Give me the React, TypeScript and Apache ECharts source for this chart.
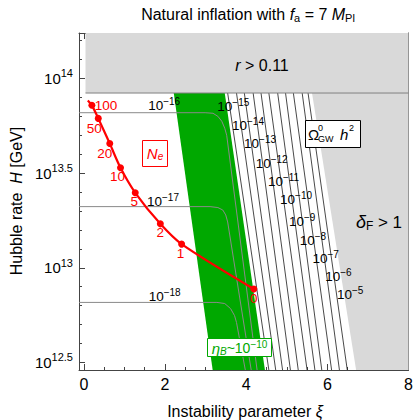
import React, { useEffect, useRef } from 'react';
import * as echarts from 'echarts';

const FONT = "'Liberation Sans', Arial, Helvetica, sans-serif";
const RED = '#ff0000';
const GREEN = '#00a800';
const LIGHT = '#d9d9d9';
const GREYLINE = '#8a8a8a';
const FRAME = '#444444';

const X_MIN = -0.12;
const X_MAX = 8;
const Y_MIN = 12.46;
const Y_MAX = 14.24;

// ticks
const xMajorTicks = [0, 2, 4, 6, 8];
const xMinorTicks = [0.5, 1, 1.5, 2.5, 3, 3.5, 4.5, 5, 5.5, 6.5, 7, 7.5];
const yMajorTicks = [12.5, 13, 13.5, 14];
const yTickLabels = ['12.5', '13', '13.5', '14'];
const yMinorTicks = [12.6, 12.7, 12.8, 12.9, 13.1, 13.2, 13.3, 13.4, 13.6, 13.7, 13.8, 13.9, 14.1, 14.2];

// r > 0.11 excluded region (xi, log10 H)
const rRegionXi = [0.04, 8, 8, 0.04];
const rRegionLogH = [13.923, 13.923, 14.24, 14.24];
const rBoundaryXi = [0.04, 8];
const rBoundaryLogH = [13.923, 13.923];
// delta_F > 1 region
const deltaRegionXi = [5.621, 8, 8, 6.708];
const deltaRegionLogH = [13.923, 13.923, 12.46, 12.46];
// eta_B ~ 1e-10 band
const etaBandXi = [2.215, 3.471, 4.461, 3.174];
const etaBandLogH = [13.923, 13.923, 12.46, 12.46];

// Omega_GW h^2 contours (black)
const omegaExponents = ['−15', '−14', '−13', '−12', '−11', '−10', '−9', '−8', '−7', '−6', '−5'];
const omegaTopXi = [3.543, 3.761, 3.954, 4.171, 4.365, 4.558, 4.775, 4.969, 5.162, 5.379, 5.524];
const omegaBottomXi = [4.558, 4.727, 4.896, 5.089, 5.282, 5.5, 5.693, 5.862, 6.104, 6.297, 6.49];
const omegaTopLogH = 13.923;
const omegaBottomLogH = 12.46;
const omegaLabelXi = [3.681, 4.043, 4.341, 4.626, 4.92, 5.229, 5.379, 5.645, 5.959, 6.273, 6.563];
const omegaLabelLogH = [13.853, 13.753, 13.656, 13.551, 13.454, 13.358, 13.244, 13.144, 13.047, 12.953, 12.858];

// faint Omega contours (grey)
const faintExponents = ['−16', '−17', '−18'];
const faint16Xi = [-0.12, 2.988, 3.181, 3.302, 3.398, 3.471, 3.519, 4.268];
const faint16LogH = [13.819, 13.819, 13.816, 13.8, 13.774, 13.737, 13.7, 12.46];
const faint17Xi = [-0.12, 3.109, 3.302, 3.423, 3.495, 3.543, 4.123];
const faint17LogH = [13.323, 13.323, 13.318, 13.305, 13.279, 13.242, 12.46];
const faint18Xi = [-0.12, 3.278, 3.471, 3.616, 3.713, 3.761, 3.978];
const faint18LogH = [12.817, 12.817, 12.811, 12.784, 12.747, 12.711, 12.46];
const faintLabelXi = [1.978, 1.949, 1.99];
const faintLabelLogH = [13.858, 13.349, 12.849];

// N_e trajectory
const neLabels = ['', '100', '50', '20', '10', '5', '2', '1', '0'];
const neXi = [0.097, 0.198, 0.355, 0.638, 0.903, 1.266, 1.884, 2.408, 4.188];
const neLogH = [13.884, 13.858, 13.789, 13.656, 13.528, 13.396, 13.232, 13.125, 12.888];
const neLabelOffsets = [[0, 0], [14, 0], [-4, 10], [-5, 10], [-3, 9], [-1, 9], [0, 9], [-1, 9], [0, 10]];

function polygonSeries(xs: number[], ys: number[], color: string, z: number) {
  const data = xs.map((x, i) => [x, ys[i]]);
  return {
    type: 'custom',
    coordinateSystem: 'cartesian2d',
    xAxisIndex: 0,
    yAxisIndex: 0,
    silent: true,
    z,
    data,
    renderItem: (params: any, api: any) => {
      if (params.dataIndex !== 0) return { type: 'group', children: [] };
      const pts = data.map((d) => api.coord(d));
      return { type: 'polygon', shape: { points: pts }, style: { fill: color, stroke: null } };
    },
  };
}

function lineSeries(xs: number[], ys: number[], color: string, width: number, z: number) {
  return {
    type: 'line',
    xAxisIndex: 0,
    yAxisIndex: 0,
    silent: true,
    z,
    showSymbol: false,
    symbol: 'none',
    data: xs.map((x, i) => [x, ys[i]]),
    lineStyle: { color, width },
  };
}

function makeOption() {
  const series: any[] = [];
  series.push(polygonSeries(etaBandXi, etaBandLogH, GREEN, 1));
  series.push(lineSeries(faint16Xi, faint16LogH, GREYLINE, 1, 2));
  series.push(lineSeries(faint17Xi, faint17LogH, GREYLINE, 1, 2));
  series.push(lineSeries(faint18Xi, faint18LogH, GREYLINE, 1, 2));
  omegaTopXi.forEach((t, i) => {
    series.push(lineSeries([t, omegaBottomXi[i]], [omegaTopLogH, omegaBottomLogH], '#1a1a1a', 0.8, 2));
  });
  series.push(polygonSeries(deltaRegionXi, deltaRegionLogH, LIGHT, 3));
  series.push(polygonSeries(rRegionXi, rRegionLogH, LIGHT, 3));
  series.push(lineSeries(rBoundaryXi, rBoundaryLogH, '#808080', 1, 4));

  // contour labels as text drawn at data coordinates
  const labelXi = omegaLabelXi.concat(faintLabelXi);
  const labelLogH = omegaLabelLogH.concat(faintLabelLogH);
  const labelExp = omegaExponents.concat(faintExponents);
  series.push({
    type: 'custom',
    coordinateSystem: 'cartesian2d',
    silent: true,
    z: 5,
    data: labelXi.map((x, i) => [x, labelLogH[i]]),
    renderItem: (params: any, api: any) => {
      const p = api.coord([api.value(0), api.value(1)]);
      return {
        type: 'text',
        x: p[0],
        y: p[1],
        style: {
          text: `{b|10}{s|${labelExp[params.dataIndex]}}`,
          fill: '#000',
          align: 'center',
          verticalAlign: 'middle',
          fontFamily: FONT,
          fontSize: 13.5,
          rich: {
            b: { fontSize: 13.5, fontFamily: FONT, fill: '#000' },
            s: { fontSize: 10, fontFamily: FONT, fill: '#000', padding: [0, 0, 8, 0] },
          },
        },
      };
    },
  });

  // N_e curve
  series.push({
    type: 'line',
    z: 10,
    smooth: 0.3,
    showSymbol: true,
    showAllSymbol: true,
    symbolSize: 7,
    lineStyle: { color: RED, width: 2.2 },
    itemStyle: { color: RED },
    label: { color: RED, fontSize: 13, fontFamily: FONT },
    data: neXi.map((x, i) => ({
      value: [x, neLogH[i]],
      symbol: neLabels[i] ? 'circle' : 'none',
      label: {
        show: !!neLabels[i],
        formatter: neLabels[i] || ' ',
        position: 'inside',
        offset: neLabelOffsets[i],
        color: RED,
        fontSize: 13.5,
        fontFamily: FONT,
        textBorderWidth: 0,
      },
    })),
  });

  const baseX = { type: 'value', min: X_MIN, max: X_MAX, splitLine: { show: false } };
  const baseY = { type: 'value', min: Y_MIN, max: Y_MAX, splitLine: { show: false } };

  const t = (txt: string, x: number, y: number, extra: any = {}) => ({
    type: 'text',
    x,
    y,
    z: 100,
    style: Object.assign(
      {
        text: txt,
        fill: '#000',
        fontSize: 16,
        fontFamily: FONT,
        align: 'center',
        verticalAlign: 'middle',
      },
      extra
    ),
  });

  const graphic: any[] = [
    t('Natural inflation with {i|f}{sub|a} = 7 {i|M}{sub|Pl}', 248, 14, {
      rich: {
        i: { fontStyle: 'italic', fontSize: 16, fontFamily: FONT, fill: '#000' },
        sub: { fontSize: 11, fontFamily: FONT, fill: '#000', padding: [7, 0, 0, 0] },
      },
    }),
    t('Instability parameter {i|ξ}', 245, 411, {
      rich: { i: { fontStyle: 'italic', fontSize: 16, fontFamily: FONT, fill: '#000' } },
    }),
    Object.assign(
      t('Hubble rate  {i|H} [GeV]', 16, 201, {
        rich: { i: { fontStyle: 'italic', fontSize: 16, fontFamily: FONT, fill: '#000' } },
      }),
      { rotation: Math.PI / 2 }
    ),
    t('{i|r} > 0.11', 262, 65, {
      rich: { i: { fontStyle: 'italic', fontSize: 16, fontFamily: FONT, fill: '#000' } },
    }),
    t('{i|δ}{sub|F} > 1', 379, 222, {
      fontSize: 17,
      rich: {
        i: { fontStyle: 'italic', fontSize: 18, fontFamily: FONT, fill: '#000' },
        sub: { fontSize: 12, fontFamily: FONT, fill: '#000', padding: [7, 0, 0, 0] },
      },
    }),
    // N_e box
    {
      type: 'rect',
      z: 100,
      shape: { x: 142.5, y: 140.5, width: 25, height: 26 },
      style: { fill: '#fff', stroke: RED, lineWidth: 1 },
    },
    t('{i|N}{sub|e}', 155, 153, {
      fill: RED,
      rich: {
        i: { fontStyle: 'italic', fontSize: 15, fontFamily: FONT, fill: RED },
        sub: { fontStyle: 'italic', fontSize: 10, fontFamily: FONT, fill: RED, padding: [6, 0, 0, 0] },
      },
    }),
    // Omega box
    {
      type: 'rect',
      z: 100,
      shape: { x: 305.5, y: 120.5, width: 55, height: 27 },
      style: { fill: '#fff', stroke: '#000', lineWidth: 1 },
    },
    t('Ω', 308, 134, { align: 'left', fontSize: 15 }),
    t('0', 318, 128, { align: 'left', fontSize: 9 }),
    t('GW', 318, 139, { align: 'left', fontSize: 9 }),
    t('h', 340, 134, { align: 'left', fontSize: 15, fontStyle: 'italic' }),
    t('2', 349, 128, { align: 'left', fontSize: 9 }),
    // eta_B box
    {
      type: 'rect',
      z: 100,
      shape: { x: 207.5, y: 338.5, width: 64, height: 18 },
      style: { fill: '#fff', stroke: GREEN, lineWidth: 1 },
    },
    t('{i|η}{sub|B}~10{sup|−10}', 239.5, 348, {
      fill: GREEN,
      fontSize: 14,
      rich: {
        i: { fontStyle: 'italic', fontSize: 15, fontFamily: FONT, fill: GREEN },
        sub: { fontStyle: 'italic', fontSize: 10, fontFamily: FONT, fill: GREEN, padding: [6, 0, 0, 0] },
        sup: { fontSize: 10, fontFamily: FONT, fill: GREEN, padding: [0, 0, 8, 0] },
      },
    }),
  ];

  return {
    animation: false,
    backgroundColor: '#fff',
    grid: { left: 79, right: 1, top: 33, bottom: 50, containLabel: false },
    xAxis: [
      Object.assign({}, baseX, {
        position: 'bottom',
        axisLine: { show: true, onZero: false, lineStyle: { color: FRAME, width: 1 } },
        axisTick: { show: true, inside: true, length: 6, customValues: xMajorTicks, lineStyle: { color: FRAME } },
        axisLabel: { show: true, customValues: xMajorTicks, margin: 6, fontSize: 16, color: '#000', fontFamily: FONT },
      }),
      Object.assign({}, baseX, {
        position: 'bottom',
        axisLine: { show: false, onZero: false },
        axisTick: { show: true, inside: true, length: 3, customValues: xMinorTicks, lineStyle: { color: FRAME } },
        axisLabel: { show: false },
      }),
      Object.assign({}, baseX, {
        position: 'top',
        axisLine: { show: true, onZero: false, lineStyle: { color: FRAME, width: 1 } },
        axisTick: { show: true, inside: true, length: 6, customValues: xMajorTicks, lineStyle: { color: FRAME } },
        axisLabel: { show: false },
      }),
      Object.assign({}, baseX, {
        position: 'top',
        axisLine: { show: false, onZero: false },
        axisTick: { show: true, inside: true, length: 3, customValues: xMinorTicks, lineStyle: { color: FRAME } },
        axisLabel: { show: false },
      }),
    ],
    yAxis: [
      Object.assign({}, baseY, {
        position: 'left',
        axisLine: { show: true, onZero: false, lineStyle: { color: FRAME, width: 1 } },
        axisTick: { show: true, inside: true, length: 6, customValues: yMajorTicks, lineStyle: { color: FRAME } },
        axisLabel: {
          show: true,
          customValues: yMajorTicks,
          margin: 6,
          formatter: (v: number) => {
            const idx = yMajorTicks.findIndex((m) => Math.abs(m - v) < 1e-6);
            return `{b|10}{s|${yTickLabels[idx] ?? v}}`;
          },
          rich: {
            b: { fontSize: 15, fontFamily: FONT, color: '#000' },
            s: { fontSize: 11, fontFamily: FONT, color: '#000', padding: [0, 0, 10, 0] },
          },
        },
      }),
      Object.assign({}, baseY, {
        position: 'left',
        axisLine: { show: false, onZero: false },
        axisTick: { show: true, inside: true, length: 3, customValues: yMinorTicks, lineStyle: { color: FRAME } },
        axisLabel: { show: false },
      }),
      Object.assign({}, baseY, {
        position: 'right',
        axisLine: { show: true, onZero: false, lineStyle: { color: FRAME, width: 1 } },
        axisTick: { show: true, inside: true, length: 6, customValues: yMajorTicks, lineStyle: { color: FRAME } },
        axisLabel: { show: false },
      }),
      Object.assign({}, baseY, {
        position: 'right',
        axisLine: { show: false, onZero: false },
        axisTick: { show: true, inside: true, length: 3, customValues: yMinorTicks, lineStyle: { color: FRAME } },
        axisLabel: { show: false },
      }),
    ],
    series,
    graphic,
  };
}

export default function App() {
  const ref = useRef<HTMLDivElement>(null);
  useEffect(() => {
    document.body.style.margin = '0';
    if (!ref.current) return;
    const chart = echarts.init(ref.current, null, { renderer: 'svg' });
    chart.setOption(makeOption() as any);
    return () => chart.dispose();
  }, []);
  return <div ref={ref} style={{ width: 416, height: 420 }} />;
}
